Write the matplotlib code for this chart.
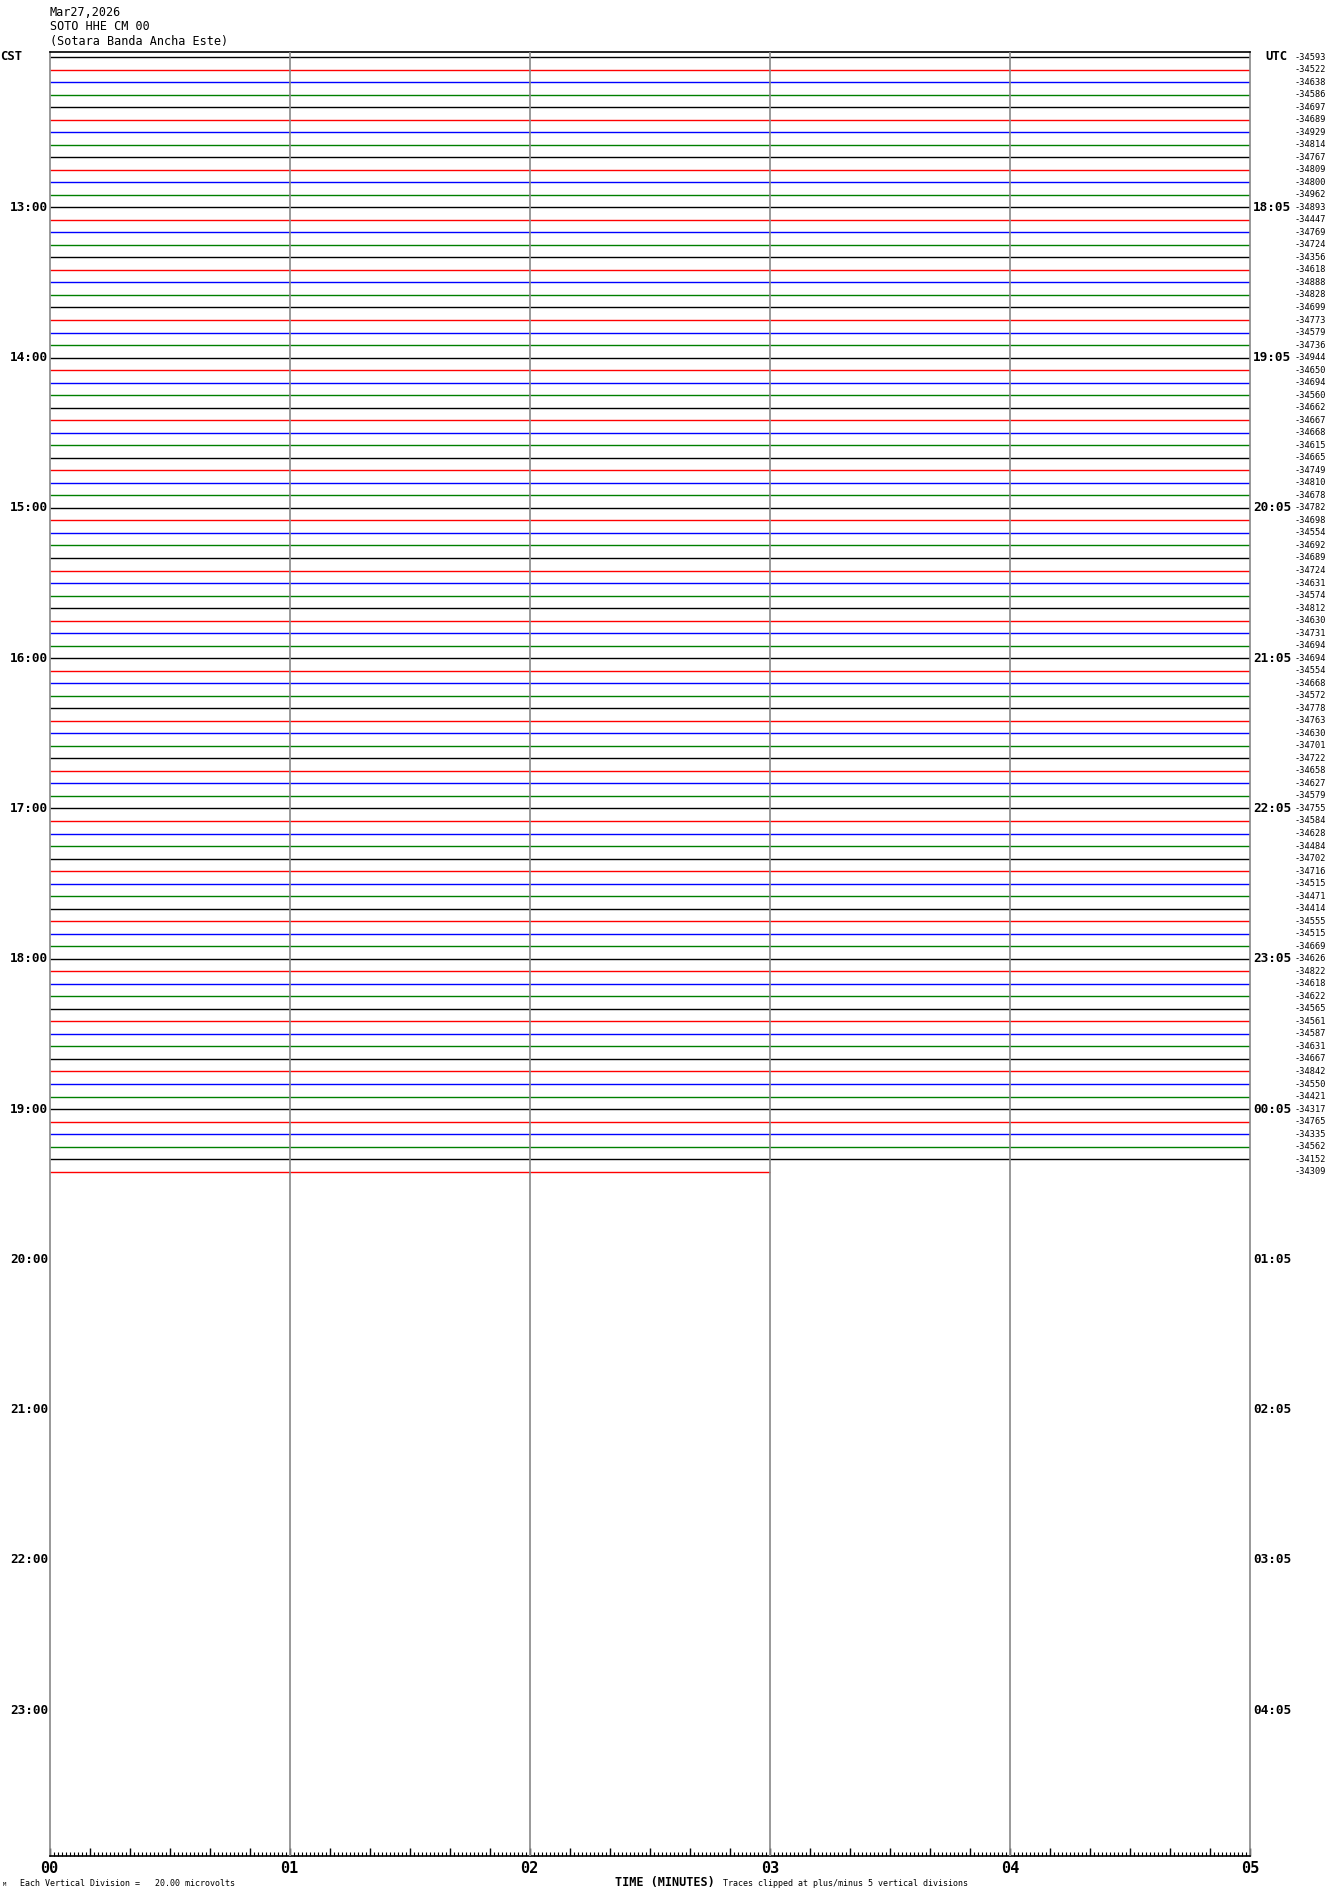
import matplotlib
matplotlib.use('Agg')
import matplotlib.pyplot as plt
from matplotlib.ticker import MultipleLocator, FuncFormatter
from matplotlib.transforms import blended_transform_factory

# helicorder: one trace per 5 minute row, 12 rows per hour
offsets = [-34593, -34522, -34638, -34586, -34697, -34689, -34929, -34814, -34767, -34809,
           -34800, -34962, -34893, -34447, -34769, -34724, -34356, -34618, -34888, -34828,
           -34699, -34773, -34579, -34736, -34944, -34650, -34694, -34560, -34662, -34667,
           -34668, -34615, -34665, -34749, -34810, -34678, -34782, -34698, -34554, -34692,
           -34689, -34724, -34631, -34574, -34812, -34630, -34731, -34694, -34694, -34554,
           -34668, -34572, -34778, -34763, -34630, -34701, -34722, -34658, -34627, -34579,
           -34755, -34584, -34628, -34484, -34702, -34716, -34515, -34471, -34414, -34555,
           -34515, -34669, -34626, -34822, -34618, -34622, -34565, -34561, -34587, -34631,
           -34667, -34842, -34550, -34421, -34317, -34765, -34335, -34562, -34152, -34309]
last_trace_end = 3.0  # minutes into the last (partial) row
trace_colors = ['black', '#ff0000', '#0000ff', '#008000']
cst_labels = ['13:00', '14:00', '15:00', '16:00', '17:00', '18:00',
              '19:00', '20:00', '21:00', '22:00', '23:00']
utc_labels = ['18:05', '19:05', '20:05', '21:05', '22:05', '23:05',
              '00:05', '01:05', '02:05', '03:05', '04:05']
n_rows = 144

W, H = 1330, 1894
fig = plt.figure(figsize=(W / 100, H / 100), dpi=100)
ax = fig.add_axes([49.5 / W, 1 - 1855.5 / H, 1200.5 / W, 1803.5 / H])
mono = 'DejaVu Sans Mono'

for i, off in enumerate(offsets):
    xend = last_trace_end if i == len(offsets) - 1 else 5.0
    ax.plot([0, xend], [i, i], color=trace_colors[i % 4], lw=1.0, solid_capstyle='butt')

ax.set_xlim(0, 5)
ax.set_ylim(n_rows - 0.4, -0.4)
for m in range(1, 5):
    ax.axvline(m, color='#888888', lw=1.2, zorder=3)

ax.spines['left'].set_color('#888888')
ax.spines['right'].set_color('#888888')
for s in ax.spines.values():
    s.set_linewidth(1.2)

ax.set_yticks([])
ax.xaxis.set_major_locator(MultipleLocator(1 / 6))
ax.xaxis.set_minor_locator(MultipleLocator(1 / 60))
ax.xaxis.set_major_formatter(FuncFormatter(
    lambda v, p: '%02d' % round(v) if abs(v - round(v)) < 1e-6 else ''))
ax.tick_params(axis='x', which='major', direction='in', length=6, width=1, pad=4,
               labelsize=11)
ax.tick_params(axis='x', which='minor', direction='in', length=3, width=0.8)
for lbl in ax.get_xticklabels():
    lbl.set_fontfamily(mono)
    lbl.set_fontweight('bold')

# hour labels on both sides, offsets on the right
tr_l = blended_transform_factory(fig.transFigure, ax.transData)
for k, (c, u) in enumerate(zip(cst_labels, utc_labels)):
    row = 12 * (k + 1)
    ax.text(48 / W, row, c, transform=tr_l, ha='right', va='center',
            family=mono, fontweight='bold', fontsize=9.2)
    ax.text(1253 / W, row, u, transform=tr_l, ha='left', va='center',
            family=mono, fontweight='bold', fontsize=9.2)
for i, off in enumerate(offsets):
    ax.text(1294 / W, i, str(off), transform=tr_l, ha='left', va='center',
            family=mono, fontsize=6.2)

fig.text(0 / W, 1 - 56 / H, 'CST', family=mono, fontweight='bold', fontsize=8.8,
         va='center', ha='left')
fig.text(1265 / W, 1 - 56 / H, 'UTC', family=mono, fontweight='bold', fontsize=8.8,
         va='center', ha='left')

fig.text(50 / W, 1 - 12 / H, 'Mar27,2026', family=mono, fontsize=8.5, va='center')
fig.text(50 / W, 1 - 27 / H, 'SOTO HHE CM 00', family=mono, fontsize=8.5, va='center')
fig.text(50 / W, 1 - 42 / H, '(Sotara Banda Ancha Este)', family=mono, fontsize=8.5,
         va='center')

fig.text(3 / W, 1 - 1884 / H, 'M', family=mono, fontsize=4, va='center')
fig.text(20 / W, 1 - 1883 / H, 'Each Vertical Division =   20.00 microvolts',
         family=mono, fontsize=6.0, va='center')
fig.text(615 / W, 1 - 1882 / H, 'TIME (MINUTES)', family=mono, fontweight='bold',
         fontsize=8.5, va='center')
fig.text(723 / W, 1 - 1883 / H, 'Traces clipped at plus/minus 5 vertical divisions',
         family=mono, fontsize=6.0, va='center')

fig.savefig('out.png', dpi=100)
print('Saved out.png')
